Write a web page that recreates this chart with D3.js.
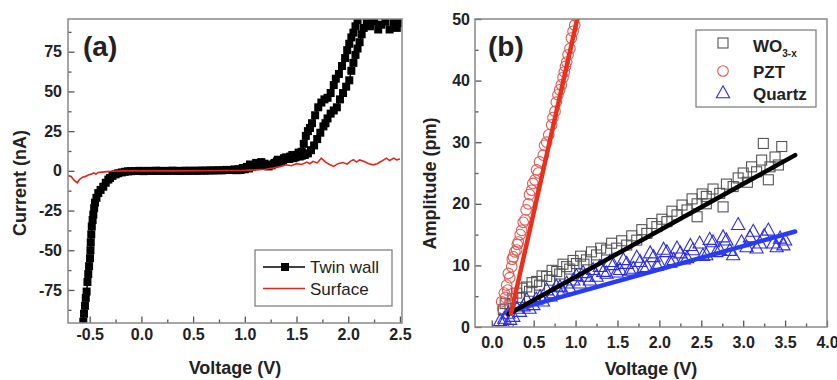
<!DOCTYPE html>
<html>
<head>
<meta charset="utf-8">
<script src="https://cdn.jsdelivr.net/npm/d3@7"></script>
<style>
  body { margin: 0; background: #fff; }
  svg text { font-family: Arial, "Liberation Sans", sans-serif; fill: #222; }
</style>
</head>
<body>
<div id="chart"></div>
<script>
// panel (a): I-V curves, twin wall measured as forward and return sweep
const twinWallUp = [
  [-0.562,-95],[-0.555,-90],[-0.546,-85],[-0.538,-80],[-0.53,-76],[-0.522,-70],[-0.514,-65],[-0.506,-60],
  [-0.497,-55],[-0.493,-50],[-0.49,-45],[-0.485,-40],[-0.48,-35],[-0.472,-31],[-0.465,-27.5],[-0.457,-23.5],
  [-0.449,-20],[-0.435,-17],[-0.417,-14],[-0.395,-12],[-0.369,-10],[-0.345,-7.5],[-0.32,-5.5],[-0.304,-4.5],
  [-0.28,-3.2],[-0.25,-2.2],[-0.224,-1.5],[-0.19,-1],[-0.16,-0.6],[-0.13,-0.3],
  [-0.1,-0.2],[-0.06,-0.1],[-0.02,0],[0.02,-0.2],[0.06,0],[0.1,-0.1],[0.14,0.1],[0.18,0],[0.22,-0.1],
  [0.26,0],[0.3,0.1],[0.34,0],[0.38,-0.1],[0.42,0.1],[0.46,0],[0.5,0.1],[0.54,0],[0.58,0.2],[0.62,0.1],
  [0.66,0.3],[0.7,0.2],[0.74,0.4],[0.78,0.3],[0.82,0.6],[0.86,0.5],[0.9,0.9],[0.94,1.0],[0.98,1.8],
  [1.02,2.5],[1.05,4],[1.08,3.5],[1.11,5],[1.14,4.5],[1.17,3.5],[1.2,3.8],[1.23,2.8],[1.26,3.5],
  [1.29,5],[1.32,7],[1.35,6],[1.38,8],[1.41,7.5],[1.44,9],[1.47,8],[1.5,10],[1.53,9],[1.55,12],
  [1.57,17],[1.59,22],[1.61,25],[1.63,27],[1.65,30],[1.68,35],[1.71,40],[1.74,43],[1.77,45],[1.8,46],
  [1.83,49],[1.86,54],[1.88,58],[1.91,61],[1.94,66],[1.97,71],[1.99,76],[2.01,80],[2.03,84],[2.05,87],
  [2.07,91],[2.09,95]
];
const twinWallDown = [
  [2.5,93],[2.47,90],[2.44,93],[2.40,89],[2.36,94],[2.32,92],[2.29,89],[2.25,94],[2.21,91],[2.18,93],
  [2.15,90],[2.13,86],[2.11,81],[2.09,77],[2.07,73],[2.05,68],[2.03,63],[2.01,57],[1.98,53],[1.95,49],
  [1.92,45],[1.89,40],[1.86,38],[1.83,36],[1.8,33],[1.78,30],[1.76,28],[1.73,24],[1.7,20],[1.67,16],
  [1.64,13],[1.61,11],[1.58,10],[1.55,9.5],[1.52,11.5],[1.49,8.5],[1.46,10],[1.43,7.5],[1.4,8.5],
  [1.37,6.5],[1.34,5.5],[1.31,6],[1.28,4.5],[1.25,3.8],[1.22,3],[1.19,4.5],[1.16,5.5],[1.13,4],
  [1.1,3],[1.07,2.5],[1.04,1.5],[1.0,1.0],[0.96,0.6],[0.92,0.4]
];
const surface = [
  [-0.71,-3],[-0.68,-3.5],[-0.65,-6],[-0.62,-7.5],[-0.6,-5.5],[-0.57,-4],[-0.54,-3.5],[-0.51,-2.5],
  [-0.48,-2],[-0.46,-1.3],[-0.44,-2.2],[-0.42,-1],[-0.38,-0.8],[-0.33,-0.5],[-0.28,-0.3],[-0.2,0],
  [-0.1,0],[0.0,0],[0.2,0],[0.4,0],[0.6,0.1],[0.8,0.2],[1.0,0.3],[1.1,0.6],[1.2,1.0],[1.27,1.7],
  [1.33,2.5],[1.4,3.8],[1.45,3.2],[1.5,4.5],[1.55,4],[1.6,5.5],[1.63,4.5],[1.66,6],[1.7,5],[1.74,8],
  [1.78,5.5],[1.82,4],[1.86,2.8],[1.9,4.5],[1.95,5.2],[1.99,4.2],[2.02,6],[2.05,7],[2.08,5.5],[2.11,6.9],
  [2.15,6],[2.2,4.5],[2.24,3.8],[2.28,4.5],[2.32,6],[2.37,8],[2.4,6.5],[2.44,8],[2.47,6.9],[2.5,7.5]
];
const aXTicks = [-0.5, 0.0, 0.5, 1.0, 1.5, 2.0, 2.5];
const aYTicks = [-75, -50, -25, 0, 25, 50, 75];

// panel (b): amplitude vs voltage
const pzt = [
  [0.118,4.1],[0.13,3.0],[0.15,5.5],[0.165,4.8],[0.178,6.8],[0.19,6.0],[0.198,8.7],[0.215,8.0],
  [0.238,9.8],[0.245,11.0],[0.257,11.4],[0.275,12.2],[0.297,12.5],[0.305,13.4],[0.317,13.8],[0.34,15.0],
  [0.357,15.7],[0.375,17.0],[0.397,17.4],[0.41,19.0],[0.436,20.0],[0.45,21.5],[0.476,22.2],[0.49,23.3],
  [0.516,23.9],[0.535,25.5],[0.555,25.0],[0.57,26.8],[0.615,27.9],[0.63,29.5],[0.655,30],[0.68,31.2],
  [0.715,32.8],[0.73,34.0],[0.755,35],[0.77,36.5],[0.79,37.7],[0.81,38.5],[0.83,39.3],[0.85,40.5],
  [0.866,41.4],[0.88,42.3],[0.894,43],[0.91,44.2],[0.933,45.2],[0.95,46.9],[0.97,48],[0.99,49],[1.0,50.5]
];
const wo3 = [
  [0.138,2.8],[0.16,3.8],[0.218,3.6],[0.25,4.6],[0.297,5.5],[0.33,4.8],[0.36,6.3],[0.417,6.5],[0.45,5.8],
  [0.48,7.2],[0.536,7.4],[0.57,6.8],[0.6,8.3],[0.655,8.2],[0.69,7.6],[0.72,9.2],[0.775,9.0],[0.81,8.6],
  [0.85,10.2],[0.894,9.8],[0.93,9.4],[0.97,10.8],[1.01,10.3],[1.06,11.5],[1.1,10.2],[1.13,10.9],[1.19,12.2],
  [1.25,11.7],[1.3,12.8],[1.37,12.5],[1.43,13.6],[1.49,12.8],[1.55,14.0],[1.61,13.3],[1.67,14.8],[1.73,14.1],
  [1.79,15.8],[1.85,15.2],[1.91,16.8],[1.97,16.3],[2.03,17.5],[2.09,17.1],[2.15,18.8],[2.21,18.2],[2.27,19.8],
  [2.33,19.0],[2.39,20.8],[2.45,20.0],[2.45,17.9],[2.51,21.6],[2.56,21.2],[2.56,20.0],[2.64,22.4],[2.72,21.7],
  [2.76,19.5],[2.8,23.2],[2.88,22.8],[2.94,24.2],[3.0,25],[3.05,23.5],[3.1,26],[3.16,25.2],[3.22,27.1],
  [3.24,29.8],[3.3,23.9],[3.32,26],[3.38,27.6],[3.42,26.3],[3.46,29.3]
];
const quartz = [
  [0.1,1.0],[0.138,0.6],[0.15,1.4],[0.198,2.2],[0.22,1.2],[0.257,1.7],[0.3,3.0],[0.337,2.5],[0.38,3.4],
  [0.417,4.4],[0.45,3.0],[0.496,3.6],[0.53,4.5],[0.576,4.9],[0.61,4.2],[0.655,6.0],[0.7,5.0],[0.734,5.5],
  [0.77,6.6],[0.814,6.5],[0.85,5.8],[0.894,7.1],[0.93,6.3],[0.973,7.6],[1.01,8.3],[1.05,7.1],[1.09,8.8],
  [1.13,8.2],[1.17,7.6],[1.21,9.3],[1.25,8.2],[1.29,9.8],[1.33,9.0],[1.37,8.7],[1.41,10.6],[1.45,10.1],
  [1.49,8.9],[1.53,9.3],[1.57,10.9],[1.61,10.3],[1.65,9.2],[1.69,9.5],[1.73,11.3],[1.77,10.6],[1.81,9.6],
  [1.85,9.8],[1.89,12.0],[1.93,11.4],[1.97,10.0],[2.0,10.3],[2.05,12.6],[2.09,12.2],[2.13,10.5],[2.17,10.9],
  [2.21,12.8],[2.25,12.0],[2.29,11.0],[2.33,11.2],[2.37,13.2],[2.4,12.5],[2.48,13.6],[2.52,11.6],[2.56,11.7],
  [2.6,14.2],[2.64,13.8],[2.68,12.2],[2.72,12.5],[2.76,14.6],[2.8,14.1],[2.84,12.4],[2.88,11.7],[2.94,16.6],
  [2.98,13.8],[3.04,13.0],[3.08,14.6],[3.12,15.5],[3.16,12.8],[3.2,13.6],[3.25,14.8],[3.3,15.7],[3.36,13.6],
  [3.4,13.0],[3.44,14.4],[3.48,13.3],[3.5,14.1]
];
// linear fits (end points)
const pztFit = [[0.23, 2.2], [1.02, 50]];
const wo3Fit = [[0.2, 2.1], [3.62, 27.9]];
const quartzFit = [[0.2, 2.5], [3.62, 15.5]];
const bXTicks = [0.0, 0.5, 1.0, 1.5, 2.0, 2.5, 3.0, 3.5, 4.0];
const bYTicks = [0, 10, 20, 30, 40, 50];

const svg = d3.select('#chart').append('svg')
  .attr('width', 837)
  .attr('height', 380);

// plain hyphen for negatives, as in the figure
const fmt1 = d => d.toFixed(1);
const fmt0 = d => String(d);

function drawAxes(g, x, y, w, h, xt, yt, xMinor, yMinor, xPad, yPad, xFmt, yFmt) {
  const style = sel => {
    sel.select('.domain').remove();
    sel.selectAll('line').attr('stroke', '#555').attr('stroke-width', 1.3);
    sel.selectAll('text').style('font-size', '16px').style('font-weight', 'bold');
  };
  g.append('g').attr('transform', `translate(0,${h})`)
    .call(d3.axisBottom(x).tickValues(xMinor).tickSize(-3.5).tickFormat(''))
    .call(style);
  g.append('g').attr('transform', `translate(0,${h})`)
    .call(d3.axisBottom(x).tickValues(xt).tickSize(-6.5).tickPadding(xPad).tickFormat(xFmt))
    .call(style);
  g.append('g')
    .call(d3.axisLeft(y).tickValues(yMinor).tickSize(-3.5).tickFormat(''))
    .call(style);
  g.append('g')
    .call(d3.axisLeft(y).tickValues(yt).tickSize(-6.5).tickPadding(yPad).tickFormat(yFmt))
    .call(style);
  g.append('rect')
    .attr('width', w).attr('height', h)
    .attr('fill', 'none').attr('stroke', '#888').attr('stroke-width', 1.5);
}

// ---------- panel (a) ----------
const aL = 68, aT = 19, aW = 334, aH = 304;
const ga = svg.append('g').attr('transform', `translate(${aL},${aT})`);
const xa = d3.scaleLinear().domain([-0.71, 2.52]).range([0, aW]);
const ya = d3.scaleLinear().domain([-95.8, 95.6]).range([aH, 0]);

ga.append('defs').append('clipPath').attr('id', 'clipA')
  .append('rect').attr('width', aW).attr('height', aH);

const plotA = ga.append('g').attr('clip-path', 'url(#clipA)');
const lineA = d3.line().x(d => xa(d[0])).y(d => ya(d[1]));

[twinWallUp, twinWallDown].forEach(sweep => {
  plotA.append('path').datum(sweep)
    .attr('d', lineA).attr('fill', 'none').attr('stroke', '#000').attr('stroke-width', 1.5);
  plotA.append('g').selectAll('rect').data(sweep).enter().append('rect')
    .attr('x', d => xa(d[0]) - 4).attr('y', d => ya(d[1]) - 4)
    .attr('width', 8).attr('height', 8).attr('fill', '#000');
});
plotA.append('path').datum(surface)
  .attr('d', lineA).attr('fill', 'none').attr('stroke', '#e3261c').attr('stroke-width', 1.6);

drawAxes(ga, xa, ya, aW, aH, aXTicks, aYTicks,
  [-0.25, 0.25, 0.75, 1.25, 1.75, 2.25],
  [-87.5, -62.5, -37.5, -12.5, 12.5, 37.5, 62.5, 87.5], 6, 6, fmt1, fmt0);

ga.append('text').attr('x', 15).attr('y', 37)
  .style('font-size', '28px').style('font-weight', 'bold').text('(a)');

// legend (a)
const la = svg.append('g');
la.append('rect').attr('x', 255).attr('y', 250).attr('width', 137).attr('height', 56)
  .attr('fill', '#fff').attr('stroke', '#777').attr('stroke-width', 1.2);
la.append('line').attr('x1', 263).attr('x2', 305).attr('y1', 267).attr('y2', 267)
  .attr('stroke', '#000').attr('stroke-width', 1.5);
la.append('rect').attr('x', 281).attr('y', 263).attr('width', 8).attr('height', 8).attr('fill', '#000');
la.append('line').attr('x1', 263).attr('x2', 305).attr('y1', 288.5).attr('y2', 288.5)
  .attr('stroke', '#e3261c').attr('stroke-width', 1.6);
la.append('text').attr('x', 310).attr('y', 273).style('font-size', '17px').text('Twin wall');
la.append('text').attr('x', 310).attr('y', 294.5).style('font-size', '17px').text('Surface');

svg.append('text').attr('x', 235).attr('y', 374).attr('text-anchor', 'middle')
  .style('font-size', '18px').style('font-weight', 'bold').text('Voltage (V)');
svg.append('text').attr('transform', 'translate(26,183) rotate(-90)').attr('text-anchor', 'middle')
  .style('font-size', '18px').style('font-weight', 'bold').text('Current (nA)');

// ---------- panel (b) ----------
const bL = 475, bT = 19, bW = 352, bH = 308;
const gb = svg.append('g').attr('transform', `translate(${bL},${bT})`);
const xb = d3.scaleLinear().domain([-0.2, 4.0]).range([0, bW]);
const yb = d3.scaleLinear().domain([0, 50]).range([bH, 0]);

gb.append('defs').append('clipPath').attr('id', 'clipB')
  .append('rect').attr('width', bW).attr('height', bH);
const plotB = gb.append('g').attr('clip-path', 'url(#clipB)');

const sqColor = '#555', ciColor = '#e05a55', trColor = '#2b2be6';
const triPath = s => `M0,${-s * 0.6}L${s * 0.55},${s * 0.4}L${-s * 0.55},${s * 0.4}Z`;

plotB.selectAll('.wo').data(wo3).enter().append('rect')
  .attr('x', d => xb(d[0]) - 5).attr('y', d => yb(d[1]) - 5)
  .attr('width', 10).attr('height', 10)
  .attr('fill', 'none').attr('stroke', sqColor).attr('stroke-width', 1.1);
plotB.selectAll('.pz').data(pzt).enter().append('circle')
  .attr('cx', d => xb(d[0])).attr('cy', d => yb(d[1])).attr('r', 5.3)
  .attr('fill', 'none').attr('stroke', ciColor).attr('stroke-width', 1.1);
plotB.selectAll('.qz').data(quartz).enter().append('path')
  .attr('transform', d => `translate(${xb(d[0])},${yb(d[1])})`)
  .attr('d', triPath(12))
  .attr('fill', 'none').attr('stroke', trColor).attr('stroke-width', 1.1);

const lineB = d3.line().x(d => xb(d[0])).y(d => yb(d[1]));
plotB.append('path').datum(quartzFit).attr('d', lineB)
  .attr('stroke', '#2a3cf0').attr('stroke-width', 4.5).attr('stroke-linecap', 'round');
plotB.append('path').datum(wo3Fit).attr('d', lineB)
  .attr('stroke', '#000').attr('stroke-width', 4.5).attr('stroke-linecap', 'round');
plotB.append('path').datum(pztFit).attr('d', lineB)
  .attr('stroke', '#e8301c').attr('stroke-width', 4.5).attr('stroke-linecap', 'round');

drawAxes(gb, xb, yb, bW, bH, bXTicks, bYTicks,
  [0.25, 0.75, 1.25, 1.75, 2.25, 2.75, 3.25, 3.75],
  [5, 15, 25, 35, 45], 9.5, 5, fmt1, fmt0);

gb.append('text').attr('x', 13).attr('y', 37)
  .style('font-size', '28px').style('font-weight', 'bold').text('(b)');

// legend (b)
const lb = svg.append('g');
lb.append('rect').attr('x', 696).attr('y', 30).attr('width', 120).attr('height', 77)
  .attr('fill', '#fff').attr('stroke', '#777').attr('stroke-width', 1.2);
lb.append('rect').attr('x', 718).attr('y', 38).attr('width', 10).attr('height', 10)
  .attr('fill', 'none').attr('stroke', sqColor).attr('stroke-width', 1.1);
lb.append('circle').attr('cx', 723).attr('cy', 71).attr('r', 5.3)
  .attr('fill', 'none').attr('stroke', ciColor).attr('stroke-width', 1.1);
lb.append('path').attr('transform', 'translate(723,93)').attr('d', triPath(12))
  .attr('fill', 'none').attr('stroke', trColor).attr('stroke-width', 1.1);
const wo = lb.append('text').attr('x', 753).attr('y', 51.5)
  .style('font-size', '17px').style('font-weight', 'bold');
wo.append('tspan').text('WO');
wo.append('tspan').attr('dy', 5).style('font-size', '10px').text('3-x');
lb.append('text').attr('x', 753).attr('y', 77.5)
  .style('font-size', '17px').style('font-weight', 'bold').text('PZT');
lb.append('text').attr('x', 753).attr('y', 99.5)
  .style('font-size', '17px').style('font-weight', 'bold').text('Quartz');

svg.append('text').attr('x', 651).attr('y', 375).attr('text-anchor', 'middle')
  .style('font-size', '18px').style('font-weight', 'bold').text('Voltage (V)');
svg.append('text').attr('transform', 'translate(436,183.5) rotate(-90)').attr('text-anchor', 'middle')
  .style('font-size', '18px').style('font-weight', 'bold').text('Amplitude (pm)');
</script>
</body>
</html>
